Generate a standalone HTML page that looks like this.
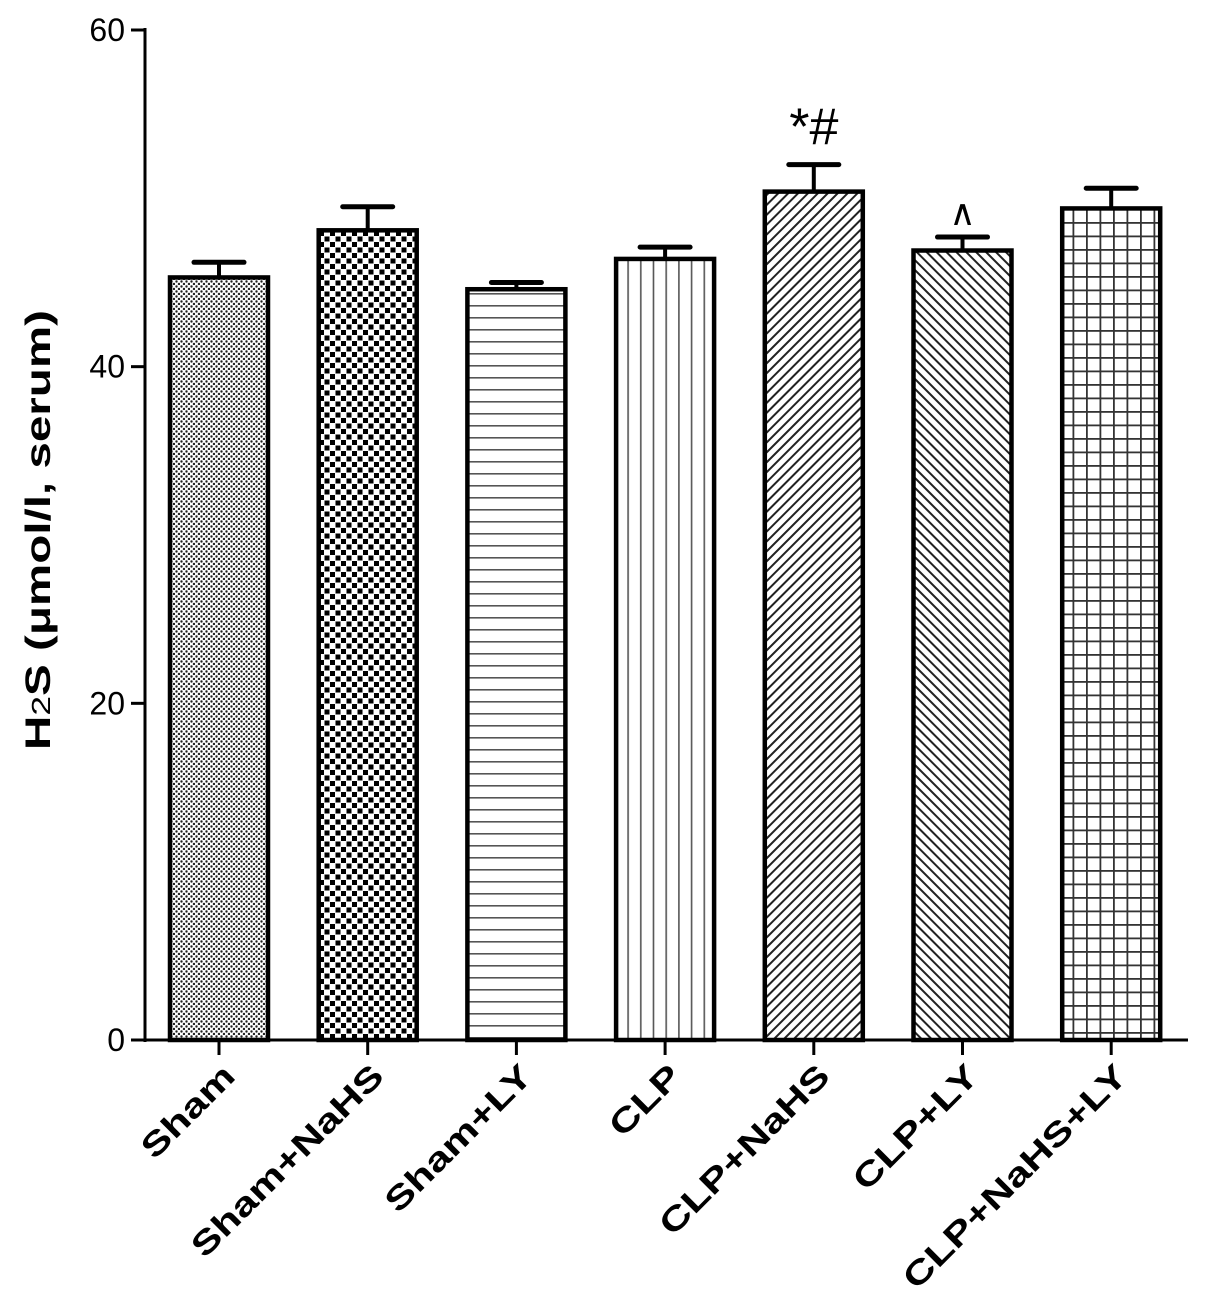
<!DOCTYPE html>
<html><head><meta charset="utf-8"><style>
html,body{margin:0;padding:0;background:#fff;}
svg{display:block;font-family:"Liberation Sans",Arial,sans-serif;}
</style></head><body>
<svg id="chart" width="1205" height="1310" viewBox="0 0 1205 1310">
<defs>
<pattern id="p0" width="5" height="5" patternUnits="userSpaceOnUse"><rect width="5" height="5" fill="#fff"/><circle cx="1.5" cy="1.5" r="1.2" fill="#222"/><circle cx="4" cy="4" r="1.2" fill="#222"/></pattern>
<pattern id="p1" width="11" height="11" patternUnits="userSpaceOnUse"><rect width="11" height="11" fill="#fff"/><rect x="0" y="0" width="5" height="5" fill="#000"/><rect x="5.5" y="5.5" width="5" height="5" fill="#000"/></pattern>
<pattern id="p2" width="10" height="12" patternUnits="userSpaceOnUse"><rect width="10" height="12" fill="#fff"/><rect y="5" width="10" height="1.6" fill="#555"/></pattern>
<pattern id="p3" width="12.7" height="10" patternUnits="userSpaceOnUse"><rect width="12.7" height="10" fill="#fff"/><rect x="5" width="1.6" height="10" fill="#555"/></pattern>
<pattern id="p4" width="7" height="7" patternUnits="userSpaceOnUse" patternTransform="rotate(45)"><rect width="7" height="7" fill="#fff"/><rect width="2" height="7" fill="#222"/></pattern>
<pattern id="p5" width="7" height="7" patternUnits="userSpaceOnUse" patternTransform="rotate(-45)"><rect width="7" height="7" fill="#fff"/><rect width="2" height="7" fill="#222"/></pattern>
<pattern id="p6" width="13.5" height="13.5" patternUnits="userSpaceOnUse"><rect width="13.5" height="13.5" fill="#fff"/><rect x="6" width="1.8" height="13.5" fill="#333"/><rect y="6" width="13.5" height="1.8" fill="#333"/></pattern>
</defs>
<g id="g"></g>
</svg>
<script>
const categories=["Sham","Sham+NaHS","Sham+LY","CLP","CLP+NaHS","CLP+LY","CLP+NaHS+LY"];
const values=[45.3,48.1,44.6,46.4,50.4,46.9,49.4];
const errors=[0.9,1.4,0.4,0.7,1.6,0.8,1.2];
const annotations=["","","","","*#","∧",""];
const yTicks=[0,20,40,60];
const NS="http://www.w3.org/2000/svg";
const g=document.getElementById('g');
const y0=1040,y1=30,yMax=60,xL=145,xR=1188;
const yS=v=>y0-(y0-y1)*v/yMax;
const xC=i=>219+i*148.7;
const bw=98;
function mk(t,a,p){const e=document.createElementNS(NS,t);for(const k in a)e.setAttribute(k,a[k]);(p||g).appendChild(e);return e;}
let e;
e=mk('line',{x1:xL,y1:y1-2,x2:xL,y2:y0+2,stroke:'#000','stroke-width':3});


e=mk('line',{x1:xL-1,y1:y0,x2:xR,y2:y0,stroke:'#000','stroke-width':3});


yTicks.forEach(v=>{
 e=mk('line',{x1:xL-14,y1:yS(v),x2:xL,y2:yS(v),stroke:'#000','stroke-width':3});
 
 
 e=mk('text',{x:xL-20,y:yS(v)+11,'text-anchor':'end','font-size':32});
 e.textContent=v;
 
 
});
e=mk('text',{transform:'translate(50,530) rotate(-90)','text-anchor':'middle','font-size':35,'font-weight':'bold'});
e.innerHTML='H<tspan font-size="26" font-weight="normal">2</tspan>S  (μmol/l, serum)';
e.setAttribute('xml:space','preserve');


e.setAttribute('textLength','440');
e.setAttribute('lengthAdjust','spacingAndGlyphs');
categories.forEach((c,i)=>{
 const x=xC(i),top=yS(values[i]),et=yS(values[i]+errors[i]);
 e=mk('line',{x1:x,y1:top,x2:x,y2:et,stroke:'#000','stroke-width':4});
 
 
 e=mk('line',{x1:x-25,y1:et,x2:x+25,y2:et,stroke:'#000','stroke-width':5,'stroke-linecap':'round'});
 
 
 e=mk('rect',{x:x-bw/2,y:top,width:bw,height:y0-top,fill:'url(#p'+i+')',stroke:'#000','stroke-width':4.5});
 
 
 e=mk('line',{x1:x,y1:y0,x2:x,y2:y0+15,stroke:'#000','stroke-width':3});
 
 
 e=mk('text',{transform:'translate('+(x+18)+','+(y0+38)+') rotate(-45)','text-anchor':'end','font-size':33,'font-weight':'bold'});
 e.textContent=c;
 
 
 const L=e.getComputedTextLength();
 e.setAttribute('textLength',(L*1.3).toFixed(1));
 e.setAttribute('lengthAdjust','spacingAndGlyphs');
 if(annotations[i]){
  e=mk('text',{x:x,y:et-(i==4?20:12),'text-anchor':'middle','font-size':i==4?52:36});
  e.textContent=annotations[i];
  
  
 }
});
</script>
</body></html>
